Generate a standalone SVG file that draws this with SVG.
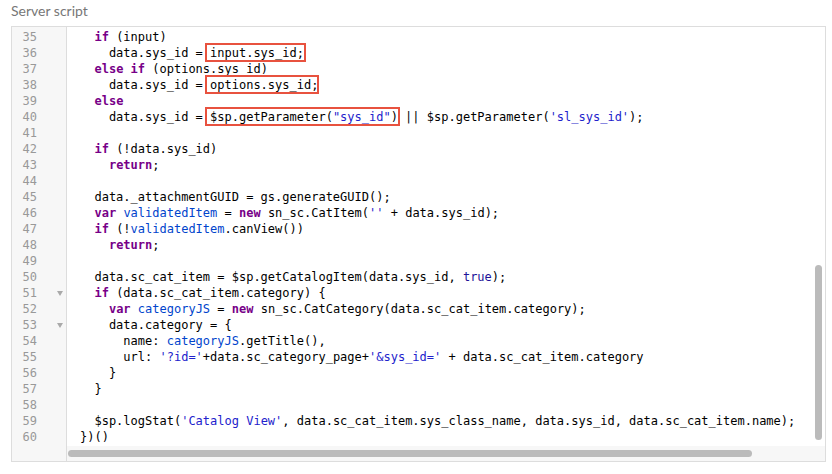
<svg xmlns="http://www.w3.org/2000/svg" width="832" height="474" viewBox="0 0 832 474">
<style>
.code{font-family:"DejaVu Sans Mono","Liberation Mono",monospace;font-size:12px;fill:#000;white-space:pre}
.ln{font-family:"DejaVu Sans Mono","Liberation Mono",monospace;font-size:12px;fill:#999;text-anchor:end}
.k{fill:#770088;font-weight:bold}
.s{fill:#2222cc}
.v{fill:#0044cc}
.a{fill:#221199}
.box{fill:none;stroke:#e8523f;stroke-width:2}
</style>
<rect width="832" height="474" fill="#fff"/>
<text x="11" y="16" font-family="Lato,'Open Sans',sans-serif" font-size="14" fill="#777">Server script</text>
<g id="editor">
<rect x="11.5" y="26.5" width="814" height="435" fill="#fff" stroke="#ddd"/>
<rect x="12" y="27" width="54" height="434" fill="#f7f7f7"/>
<line x1="66.5" y1="27" x2="66.5" y2="461" stroke="#ddd"/>
<rect x="67" y="446" width="758" height="15" fill="#f7f7f7"/>
<rect x="68" y="450" width="684" height="7" rx="3.5" fill="#bbb"/>
<rect x="815" y="265" width="7" height="175" rx="3.5" fill="#bbb"/>
</g>
<g id="gutter">
<text class="ln" x="37" y="41">35</text><text class="ln" x="37" y="57">36</text><text class="ln" x="37" y="73">37</text><text class="ln" x="37" y="89">38</text><text class="ln" x="37" y="105">39</text><text class="ln" x="37" y="121">40</text><text class="ln" x="37" y="137">41</text><text class="ln" x="37" y="153">42</text><text class="ln" x="37" y="169">43</text><text class="ln" x="37" y="185">44</text><text class="ln" x="37" y="201">45</text><text class="ln" x="37" y="217">46</text><text class="ln" x="37" y="233">47</text><text class="ln" x="37" y="249">48</text><text class="ln" x="37" y="265">49</text><text class="ln" x="37" y="281">50</text><text class="ln" x="37" y="297">51</text><text class="ln" x="37" y="313">52</text><text class="ln" x="37" y="329">53</text><text class="ln" x="37" y="345">54</text><text class="ln" x="37" y="361">55</text><text class="ln" x="37" y="377">56</text><text class="ln" x="37" y="393">57</text><text class="ln" x="37" y="409">58</text><text class="ln" x="37" y="425">59</text><text class="ln" x="37" y="441">60</text>
<path d="M57 291 L63 291 L60 296 Z M57 323 L63 323 L60 328 Z" fill="#aaa"/>
</g>
<g id="code" xml:space="preserve">
<text class="code" x="80" y="41">  <tspan class="k">if</tspan> (input)</text>
<text class="code" x="80" y="57">    data.sys_id = input.sys_id;</text>
<text class="code" x="80" y="73">  <tspan class="k">else if</tspan> (options.sys_id)</text>
<text class="code" x="80" y="89">    data.sys_id = options.sys_id;</text>
<text class="code" x="80" y="105">  <tspan class="k">else</tspan></text>
<text class="code" x="80" y="121">    data.sys_id = $sp.getParameter(<tspan class="s">"sys_id"</tspan>) || $sp.getParameter(<tspan class="s">'sl_sys_id'</tspan>);</text>
<text class="code" x="80" y="153">  <tspan class="k">if</tspan> (!data.sys_id)</text>
<text class="code" x="80" y="169">    <tspan class="k">return</tspan>;</text>
<text class="code" x="80" y="201">  data._attachmentGUID = gs.generateGUID();</text>
<text class="code" x="80" y="217">  <tspan class="k">var</tspan> <tspan class="v">validatedItem</tspan> = <tspan class="k">new</tspan> sn_sc.CatItem(<tspan class="s">''</tspan> + data.sys_id);</text>
<text class="code" x="80" y="233">  <tspan class="k">if</tspan> (!<tspan class="v">validatedItem</tspan>.canView())</text>
<text class="code" x="80" y="249">    <tspan class="k">return</tspan>;</text>
<text class="code" x="80" y="281">  data.sc_cat_item = $sp.getCatalogItem(data.sys_id, <tspan class="a">true</tspan>);</text>
<text class="code" x="80" y="297">  <tspan class="k">if</tspan> (data.sc_cat_item.category) {</text>
<text class="code" x="80" y="313">    <tspan class="k">var</tspan> <tspan class="v">categoryJS</tspan> = <tspan class="k">new</tspan> sn_sc.CatCategory(data.sc_cat_item.category);</text>
<text class="code" x="80" y="329">    data.category = {</text>
<text class="code" x="80" y="345">      name: <tspan class="v">categoryJS</tspan>.getTitle(),</text>
<text class="code" x="80" y="361">      url: <tspan class="s">'?id='</tspan>+data.sc_category_page+<tspan class="s">'&amp;sys_id='</tspan> + data.sc_cat_item.category</text>
<text class="code" x="80" y="377">    }</text>
<text class="code" x="80" y="393">  }</text>
<text class="code" x="80" y="425">  $sp.logStat(<tspan class="s">'Catalog View'</tspan>, data.sc_cat_item.sys_class_name, data.sys_id, data.sc_cat_item.name);</text>
<text class="code" x="80" y="441">})()</text>
</g>
<g id="highlights">
<rect class="box" x="206" y="44" width="99" height="17"/>
<rect class="box" x="206" y="76" width="112" height="17"/>
<rect class="box" x="206" y="108" width="193" height="17"/>
</g>
</svg>
